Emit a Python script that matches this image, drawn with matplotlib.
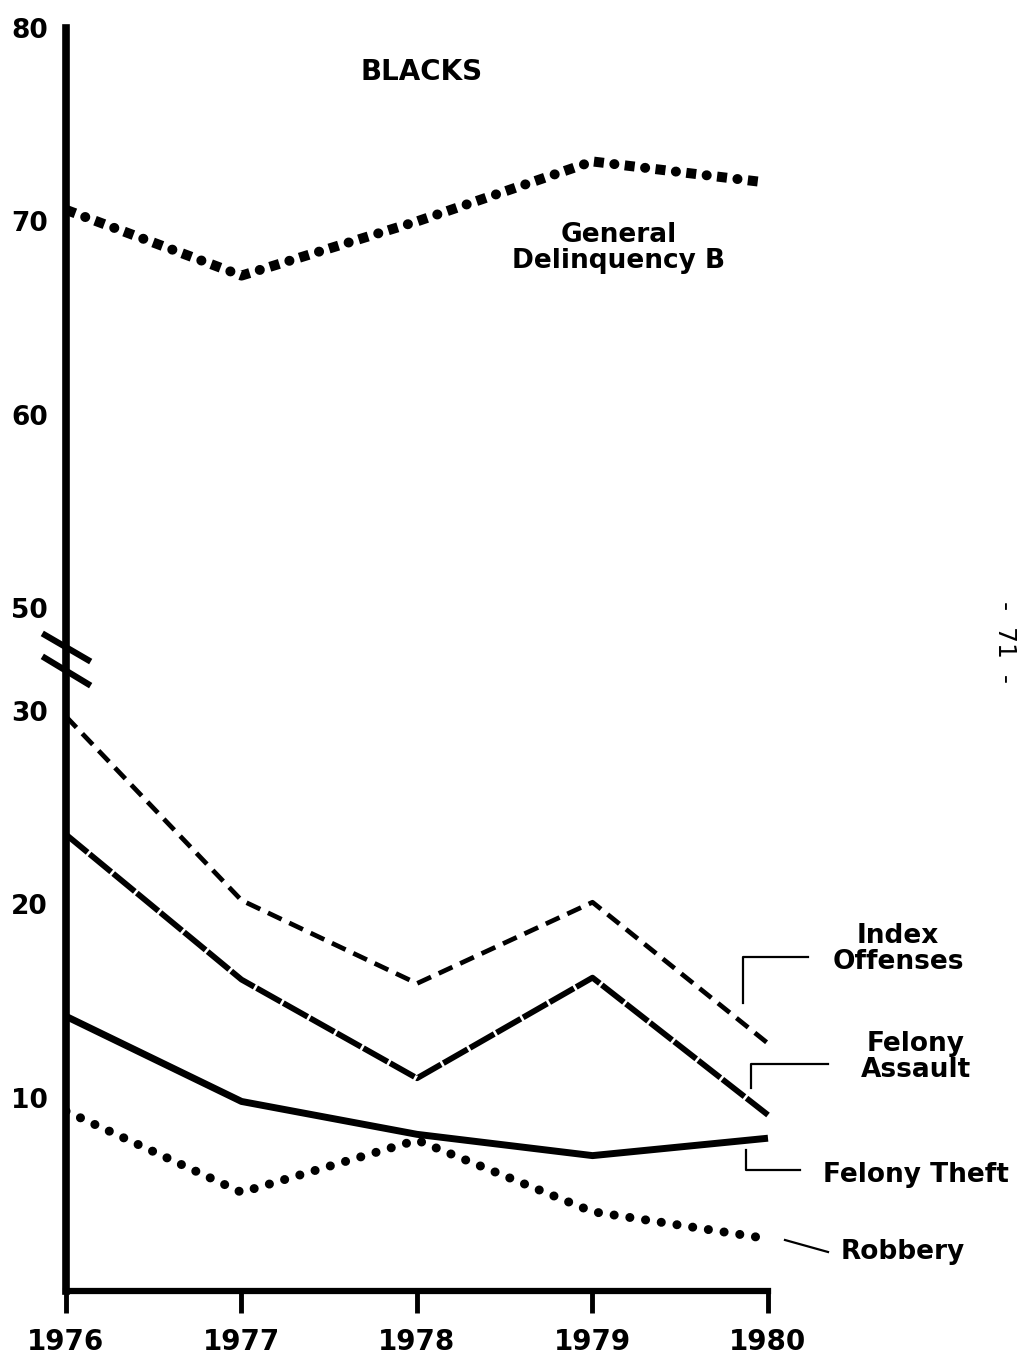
import numpy as np
import matplotlib
matplotlib.use("Agg")
import matplotlib.pyplot as plt
from matplotlib.lines import Line2D

plt.rcParams['font.family'] = ['DejaVu Sans']

# ---- data ----
years = [1976, 1977, 1978, 1979, 1980]
general_delinquency_b = [70.6, 67.2, 70.0, 73.1, 72.0]
index_offenses = [29.7, 20.2, 15.9, 20.1, 12.8]
felony_assault = [23.6, 16.1, 11.0, 16.2, 9.1]
felony_theft = [14.2, 9.8, 8.1, 7.0, 7.9]
robbery = [9.3, 5.1, 7.8, 4.1, 2.7]
y_ticks = [10, 20, 30, 50, 60, 70, 80]
title = "BLACKS"

# ---- broken-axis scale ----
B0 = 31.0
OFF = 14.7
D1 = 50 - OFF

def fwd(v):
    v = np.asarray(v, float)
    return np.where(v <= B0, v,
                    np.where(v >= 50, v - OFF, B0 + (v - B0) * (D1 - B0) / (50 - B0)))

def inv(d):
    d = np.asarray(d, float)
    return np.where(d <= B0, d,
                    np.where(d >= D1, d + OFF, B0 + (d - B0) * (50 - B0) / (D1 - B0)))

W, H = 1029, 1360
fig = plt.figure(figsize=(W / 100, H / 100), dpi=100)
left_px, right_px, top_px, bot_px = 66, 1029, 28, 1291
ax = fig.add_axes([left_px / W, 1 - bot_px / H, (right_px - left_px) / W, (bot_px - top_px) / H])
ax.set_yscale('function', functions=(fwd, inv))
ax.set_ylim(0, 80)
px_per_year = (768 - left_px) / 4
ax.set_xlim(1976, 1976 + (right_px - left_px) / px_per_year)

# ---- series ----
# General Delinquency B: alternating squares and dots
ax.plot(years, general_delinquency_b, color='black', lw=7.2,
        linestyle=(0, (1.0, 2.1)), dash_capstyle='butt', clip_on=False)
ax.plot(years, general_delinquency_b, color='black', lw=7.2,
        linestyle=(1.05, (0.01, 3.09)), dash_capstyle='round', clip_on=False)
ax.plot(years, index_offenses, color='black', lw=3.4,
        linestyle=(0, (3.2, 1.8)), dash_capstyle='butt')
ax.plot(years, felony_assault, color='black', lw=4.2,
        linestyle=(0, (4.8, 0.45)), dash_capstyle='butt')
ax.plot(years, felony_theft, color='black', lw=5.0, solid_capstyle='butt')
ax.plot(years, robbery, color='black', lw=6.5,
        linestyle=(0, (0.01, 1.75)), dash_capstyle='round')

# ---- axes styling ----
for s in ['top', 'right']:
    ax.spines[s].set_visible(False)
ax.spines['left'].set_linewidth(5.5)
ax.spines['bottom'].set_linewidth(4.5)
ax.spines['bottom'].set_bounds(1976, 1980)
ax.spines['left'].set_bounds(0, 80)
ax.set_yticks(y_ticks)
ax.set_yticklabels([str(t) for t in y_ticks])
ax.set_xticks(years)
ax.set_xticklabels([str(y) for y in years])
ax.tick_params(axis='y', length=0, pad=13, labelsize=19)
ax.tick_params(axis='x', direction='out', length=16, width=3.5, pad=11, labelsize=20)
for lab in ax.get_xticklabels() + ax.get_yticklabels():
    lab.set_fontweight('bold')

def P(x, y):
    return (x / W, 1 - y / H)

def pline(xs, ys, lw=1.6):
    fig.add_artist(Line2D([x / W for x in xs], [1 - y / H for y in ys],
                          color='black', lw=lw, transform=fig.transFigure))

# axis-break slashes
pline([45, 88], [635, 660], lw=4.5)
pline([45, 88], [658, 684], lw=4.5)

# leader lines
pline([743, 743, 808], [1003, 957, 957])
pline([751, 751, 828], [1088, 1064, 1064])
pline([746, 746, 800], [1150, 1170, 1170])
pline([785, 828], [1240, 1252])

# ---- texts ----
tkw = dict(fontsize=19, fontweight='bold', transform=fig.transFigure, ha='center', va='center')
fig.text(*P(422, 72), title, **{**tkw, 'fontsize': 20})
fig.text(*P(619, 248), "General\nDelinquency B", linespacing=1.0, **tkw)
fig.text(*P(898, 949), "Index\nOffenses", linespacing=1.0, **tkw)
fig.text(*P(916, 1057), "Felony\nAssault", linespacing=1.0, **tkw)
fig.text(*P(916, 1175), "Felony Theft", **tkw)
fig.text(*P(903, 1252), "Robbery", **tkw)
fig.text(*P(1005, 642), "-  71  -", rotation=270, fontsize=18,
         transform=fig.transFigure, ha='center', va='center')

fig.savefig("out.png", dpi=100, facecolor='white')
